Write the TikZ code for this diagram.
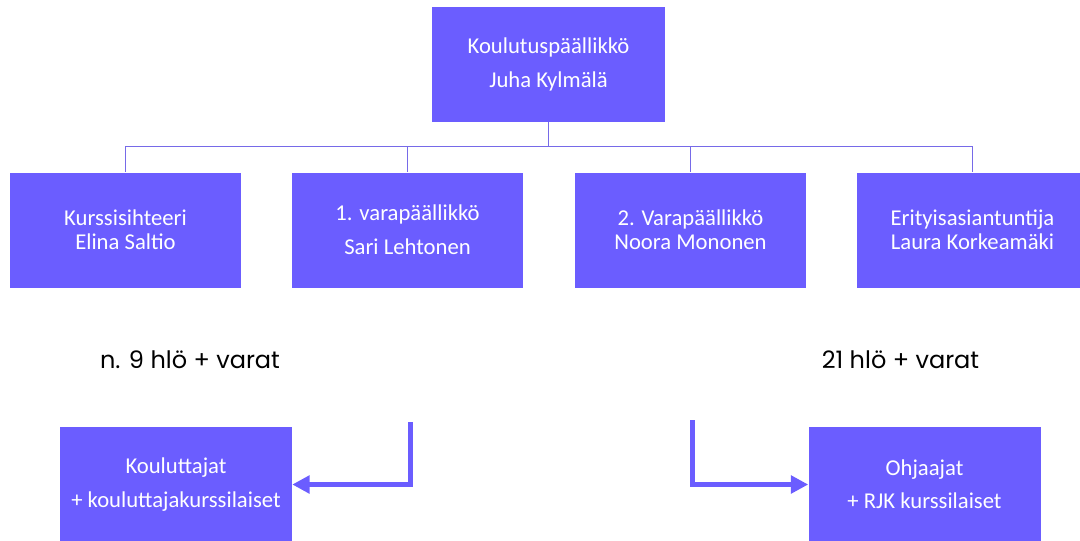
\documentclass[tikz,border=0pt]{standalone}
\usepackage{fontspec}
\setmainfont{Carlito}
\newfontfamily\gothic{Poppins}
\usetikzlibrary{arrows.meta}
\definecolor{boxpurple}{RGB}{107,93,255}
\definecolor{linepurple}{RGB}{118,106,232}
\begin{document}
\begin{tikzpicture}[x=0.75pt,y=0.75pt,yscale=-1,xscale=1,
  box/.style={fill=boxpurple, text=white, inner sep=0pt, align=center,
    minimum width=173.25pt, minimum height=86.25pt, font=\fontsize{17}{18}\selectfont},
  branch/.style={draw=linepurple, line width=1pt},
  bigarrow/.style={draw=boxpurple, line width=3.75pt,
    -{Triangle[length=13pt,width=13pt]}},
  count/.style={font=\gothic\fontsize{18}{20}\selectfont, text=black, inner sep=0pt}]
\useasboundingbox (0,0) rectangle (1080,540);

% Top box
\node (chief) at (548.5,64.5) [box, minimum width=174.75pt] {Koulutuspäällikkö\\[7.5pt]Juha Kylmälä};

% Second row
\node (secr) at (125.5,230) [box] {Kurssisihteeri\\Elina Saltio};
\node (dep1) at (407.5,230) [box] {1. varapäällikkö\\[7.5pt]Sari Lehtonen};
\node (dep2) at (690.5,230) [box] {2. Varapäällikkö\\Noora Mononen};
\node (expert) at (972.5,230) [box] {Erityisasiantuntija\\Laura Korkeamäki};

% Tree lines
\draw [branch] (chief.south) -- ++(0,24) coordinate (bus);
\foreach \n in {secr,dep1,dep2,expert}
  \draw [branch] (bus) -| (\n.north);

% Counts
\node (cntL) at (190,360) [count] {n. 9 hlö + varat};
\node (cntR) at (900.5,360) [count] {21 hlö + varat};

% Bottom boxes
\node (train) at (176,484.5) [box, minimum width=174pt] {Kouluttajat\\[7pt]+ kouluttajakurssilaiset};
\node (guide) at (924.5,484.5) [box, minimum width=174pt] {Ohjaajat\\[7pt]+ RJK kurssilaiset};

% Arrows
\coordinate (startL) at (410,422);
\coordinate (startR) at (692,420);
\draw [bigarrow] (startL) |- (train.east);
\draw [bigarrow] (startR) |- (guide.west);

\end{tikzpicture}
\end{document}
